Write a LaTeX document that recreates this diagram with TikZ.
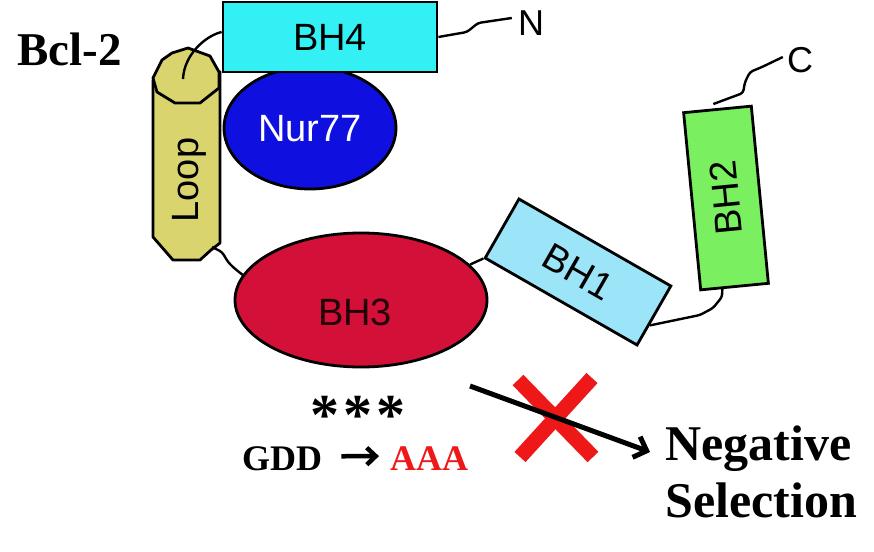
\documentclass[tikz,border=0pt]{standalone}
\usepackage{fontspec}
\setmainfont{Liberation Serif}
\setsansfont{Liberation Sans}
\usetikzlibrary{shapes.geometric,arrows.meta,calc}
\definecolor{bhfour}{RGB}{51,240,245}
\definecolor{nurblue}{RGB}{15,15,224}
\definecolor{loopy}{RGB}{218,212,110}
\definecolor{bhthree}{RGB}{210,16,56}
\definecolor{bhone}{RGB}{156,228,247}
\definecolor{bhtwo}{RGB}{122,240,96}
\definecolor{xred}{RGB}{238,24,24}
\begin{document}
\begin{tikzpicture}[x=1pt,y=-1pt,
  outl/.style={draw=black,line width=2.8pt},
  lbl/.style={font=\sffamily\fontsize{38}{40}\selectfont,inner sep=0pt,text depth=0pt},
  link/.style={line width=2.4pt,rounded corners=3pt},
  boldtxt/.style={font=\bfseries\fontsize{#1}{#1}\selectfont,inner sep=0pt,anchor=base west}]
\useasboundingbox (0,0) rectangle (874,551);
% Loop cylinder
\path[outl,fill=loopy,line join=round] (153,80) -- (153,237) -- (173,260) -- (200,260) -- (211,250) -- (220,243) -- (220,72) -- cycle;
\path[outl,fill=loopy,line join=round] (153,78) -- (162,60) -- (172,53) -- (188,48) -- (210,56) -- (219,72) -- (219,88) -- (200,103) -- (175,103) -- (157,92) -- cycle;
\node[lbl,rotate=90] (looptxt) at (185,180) {Loop};
\coordinate (looptop) at (183,79);
\coordinate (loopbot) at (212,247);
% Nur77 and BH4
\node[outl,ellipse,fill=nurblue,minimum width=172,minimum height=122,inner sep=0pt,lbl,text=white] (nur) at (310,128) {Nur77};
\node[outl,rectangle,fill=bhfour,minimum width=214,minimum height=70,inner sep=0pt,lbl] (bh4) at (330,37) {BH4};
% BH3
\node[outl,ellipse,fill=bhthree,minimum width=252,minimum height=134,inner sep=0pt] (bh3) at (361,300) {};
\node[lbl,text=black!85!bhthree] (bh3txt) at (355,312) {BH3};
% BH1
\node[outl,rectangle,fill=bhone,minimum width=175,minimum height=68,inner sep=0pt,rotate=-29.8,lbl] (bh1) at (578,272) {BH1};
% BH2
\node[outl,rectangle,fill=bhtwo,minimum width=178,minimum height=68,inner sep=0pt,rotate=95.5,lbl] (bh2) at (726,198) {BH2};
% termini
\node[lbl,font=\sffamily\fontsize{36}{38}\selectfont,inner sep=2pt] (nterm) at (531,23) {N};
\node[lbl,font=\sffamily\fontsize{36}{38}\selectfont,inner sep=2pt] (cterm) at (800,60) {C};
% connectors
\draw[link] ($(bh4.west)+(0,-5)$) .. controls (205,36) and (184,55) .. (looptop);
\draw[link] (bh4.east) -- (467,32) -- (478,23) -- ($(nterm.west)+(-4,-5)$);
\draw[link] (loopbot) -- (222,252) -- (228,262) -- (234,268) -- (bh3.168);
\draw[link] (bh3.18) -- (bh1.south west);
\draw[link] ($(bh1.east)!0.3!(bh1.south east)$) -- (700,315) -- (713,308) -- (722,297) -- ($(bh2.west)!0.35!(bh2.north west)$);
\draw[link] ($(bh2.east)+(-4,-4)$) -- (743,93) -- (745,82) -- (750,72) -- (762,67) -- ($(cterm.west)+(-2,-3)$);
% bottom text
\node[boldtxt=47] (bcl) at (17,65) {Bcl-2};
\node[boldtxt=58,anchor=base] (stars) at (358,434) {*\hspace{4pt}*\hspace{4pt}*};
\node[boldtxt=36] (gdd) at (242,470) {GDD};
\node[boldtxt=36,text=xred] (aaa) at (390,470) {AAA};
\draw[line width=4.5pt,-{Straight Barb[length=9pt,width=17pt,line width=4.5pt]}] ($(gdd.east)+(19,-2)$) -- ($(aaa.west)+(-11,-2)$);
\node[boldtxt=50] (neg) at (665,460) {Negative};
\node[boldtxt=50] (sel) at (665,517) {Selection};
% red X and arrow
\coordinate (xa) at (518,380);
\coordinate (xb) at (593,457);
\coordinate (xc) at (592,378);
\coordinate (xd) at (520,457);
\draw[xred,line width=15pt] (xa) -- (xb);
\draw[xred,line width=15pt] (xc) -- (xd);
\coordinate (arrs) at (470,386);
\coordinate (arre) at (650,452);
\draw[line width=5pt,-{Straight Barb[length=11pt,width=22pt,line width=5pt]}] (arrs) -- (arre);
\end{tikzpicture}
\end{document}
